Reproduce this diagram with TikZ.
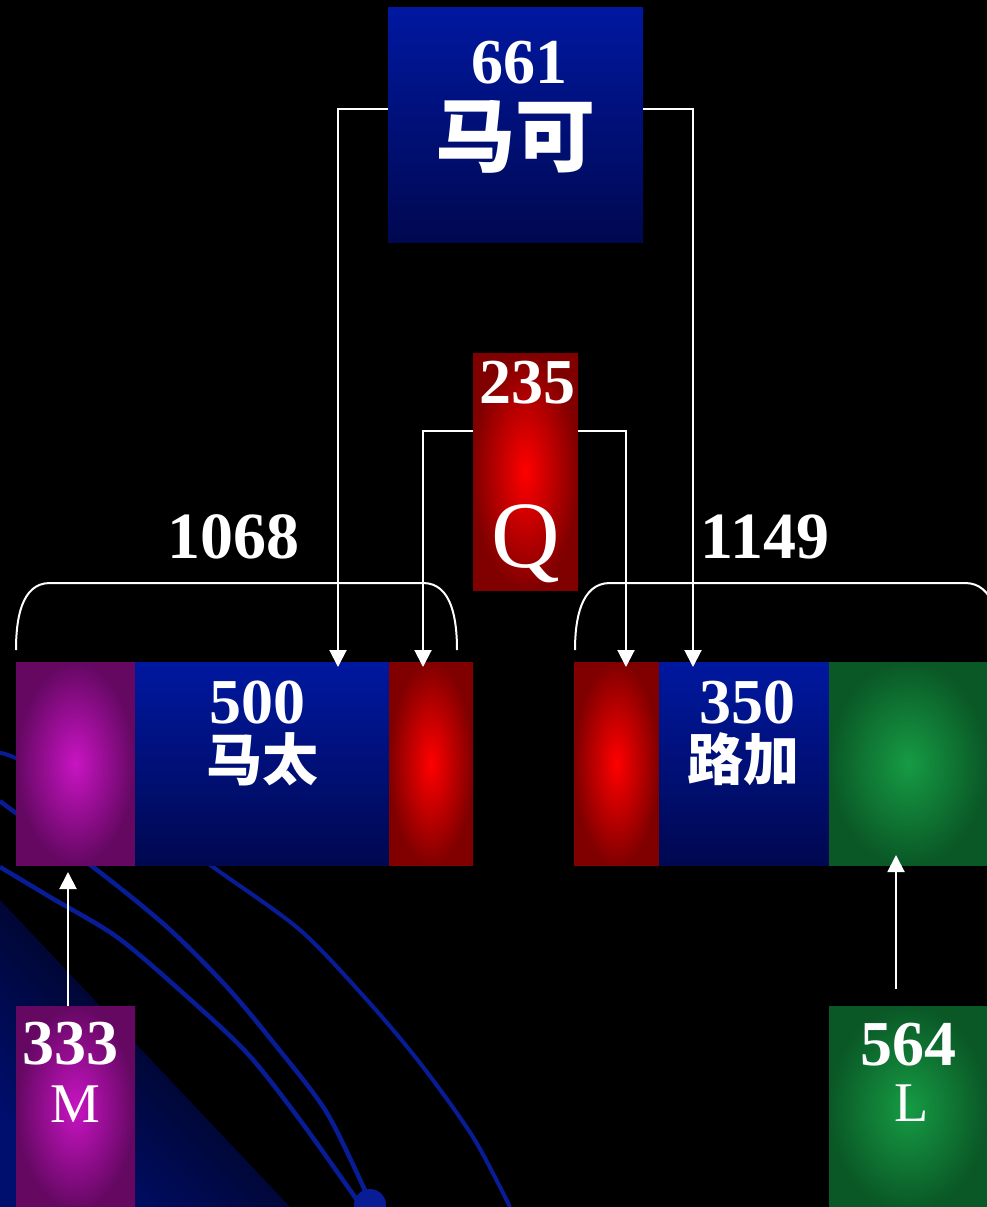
\documentclass[tikz,border=0pt]{standalone}
\usepackage{fontspec}
\setmainfont{Liberation Serif}
\newfontfamily\cjk{Noto Sans CJK SC}
\usetikzlibrary{arrows.meta}
\definecolor{bluetop}{RGB}{0,24,160}
\definecolor{bluebot}{RGB}{0,8,80}
\definecolor{redin}{RGB}{255,0,0}
\definecolor{redout}{RGB}{128,0,0}
\definecolor{magin}{RGB}{200,20,195}
\definecolor{magout}{RGB}{100,8,98}
\definecolor{grnin}{RGB}{22,155,68}
\definecolor{grnout}{RGB}{10,88,38}
\definecolor{orbit}{RGB}{8,28,150}
\definecolor{glow}{RGB}{0,14,110}
\definecolor{glowedge}{RGB}{0,1,14}
\tikzset{
  box/.style={rectangle,inner sep=0pt,outer sep=0pt,minimum height=203pt},
  bluebox/.style={box,top color=bluetop,bottom color=bluebot},
  redbox/.style={box,inner color=redin,outer color=redout},
  magbox/.style={box,inner color=magin,outer color=magout},
  grnbox/.style={box,inner color=grnin,outer color=grnout},
  num/.style={text=white,anchor=base,inner sep=0pt,font=\fontsize{64}{64}\selectfont\bfseries},
  han/.style={text=white,anchor=base,inner sep=0pt,font=\cjk\fontsize{56}{56}\selectfont\bfseries},
  let/.style={text=white,anchor=base,inner sep=0pt,font=\fontsize{56}{56}\selectfont},
  arr/.style={white,line width=2pt,-{Triangle[width=17pt,length=17pt]}},
  brace/.style={white,line width=2pt},
  orb/.style={orbit,line width=4.5pt}
}
\begin{document}
\begin{tikzpicture}[x=1pt,y=-1pt]
\useasboundingbox (0,0) rectangle (987,1207);
\fill[black] (0,0) rectangle (987,1207);
% glow and orbits in the lower left
\begin{scope}
  \clip (0,900) -- (290,1207) -- (0,1207) -- cycle;
  \shade[top color=glow,middle color=glowedge,bottom color=black,shading angle=135] (0,900) rectangle (290,1207);
\end{scope}
\draw[orb] plot[smooth] coordinates {(0,867) (50,897) (117,937) (183,993) (247,1053) (300,1120) (357,1200)};
\draw[orb] plot[smooth] coordinates {(0,801) (16,813) (93,867) (167,927) (227,987) (277,1047) (327,1113) (367,1195)};
\draw[orb,line width=4pt] plot[smooth] coordinates {(0,753) (16,758) (120,800) (213,867) (300,930) (367,1000) (420,1063) (473,1137) (510,1207)};
\fill[orbit] (370,1205) circle (16);

% boxes
\node[bluebox,minimum width=255pt,minimum height=234pt] (mark) at (515.5,125) {};
\node[redbox,minimum width=105pt,minimum height=237pt] (q) at (525.5,471.5) {};
\node[magbox,minimum width=119pt] (lmag) at (75.5,763.5) {};
\node[bluebox,minimum width=254pt] (matt) at (262,763.5) {};
\node[redbox,minimum width=84pt] (lred) at (431,763.5) {};
\node[redbox,minimum width=85pt] (rred) at (616.5,763.5) {};
\node[bluebox,minimum width=170pt] (luke) at (744,763.5) {};
\node[grnbox,minimum width=158pt] (rgrn) at (908,763.5) {};
\node[magbox,minimum width=119pt,minimum height=204pt] (mbox) at (75.5,1108) {};
\node[grnbox,minimum width=158pt,minimum height=204pt] (lbox) at (908,1108) {};

% arrows
\draw[arr,shorten >=-5pt] ([yshift=16pt]mark.west) -| ([xshift=76pt]matt.north);
\draw[arr,shorten >=-5pt] ([yshift=16pt]mark.east) -| ([xshift=-51pt]luke.north);
\draw[arr,shorten >=-5pt] ([yshift=40.5pt]q.west) -| ([xshift=-8pt]lred.north);
\draw[arr,shorten >=-5pt] ([yshift=40.5pt]q.east) -| ([xshift=9.5pt]rred.north);
\draw[arr,shorten >=7pt] ([xshift=-7.5pt]mbox.north) -- ([xshift=-7.5pt]lmag.south);
\draw[arr,shorten >=-10pt] ([xshift=-12pt,yshift=17pt]lbox.north) -- ([xshift=-12pt]rgrn.south);

% braces
\draw[brace] (16,650) to[out=90,in=180] (50,583) -- (423,583) to[out=0,in=90] (457,650);
\draw[brace] (575,650) to[out=90,in=180] (610,583) -- (965,583) to[out=0,in=90] (1000,650);

% labels
\node[num] (markno) at (519,83) {661};
\node[han,font=\cjk\fontsize{80}{80}\selectfont\bfseries] (markname) at (515,165) {马可};
\node[num] (qno) at (527,403) {235};
\node[let,font=\fontsize{95}{95}\selectfont] (qname) at (526,567) {Q};
\node[num,font=\fontsize{66}{66}\selectfont\bfseries] (lsum) at (233,558) {1068};
\node[num,font=\fontsize{66}{66}\selectfont\bfseries] (rsum) at (765,558) {1149};
\node[num] (mattno) at (257,723) {500};
\node[han] (mattname) at (262,780) {马太};
\node[num] (lukeno) at (747,723) {350};
\node[han] (lukename) at (743,780) {路加};
\node[num] (mno) at (70,1064) {333};
\node[let] (mname) at (75,1122) {M};
\node[num] (lno) at (908,1065) {564};
\node[let] (lname) at (912,1121) {L};
\end{tikzpicture}
\end{document}
